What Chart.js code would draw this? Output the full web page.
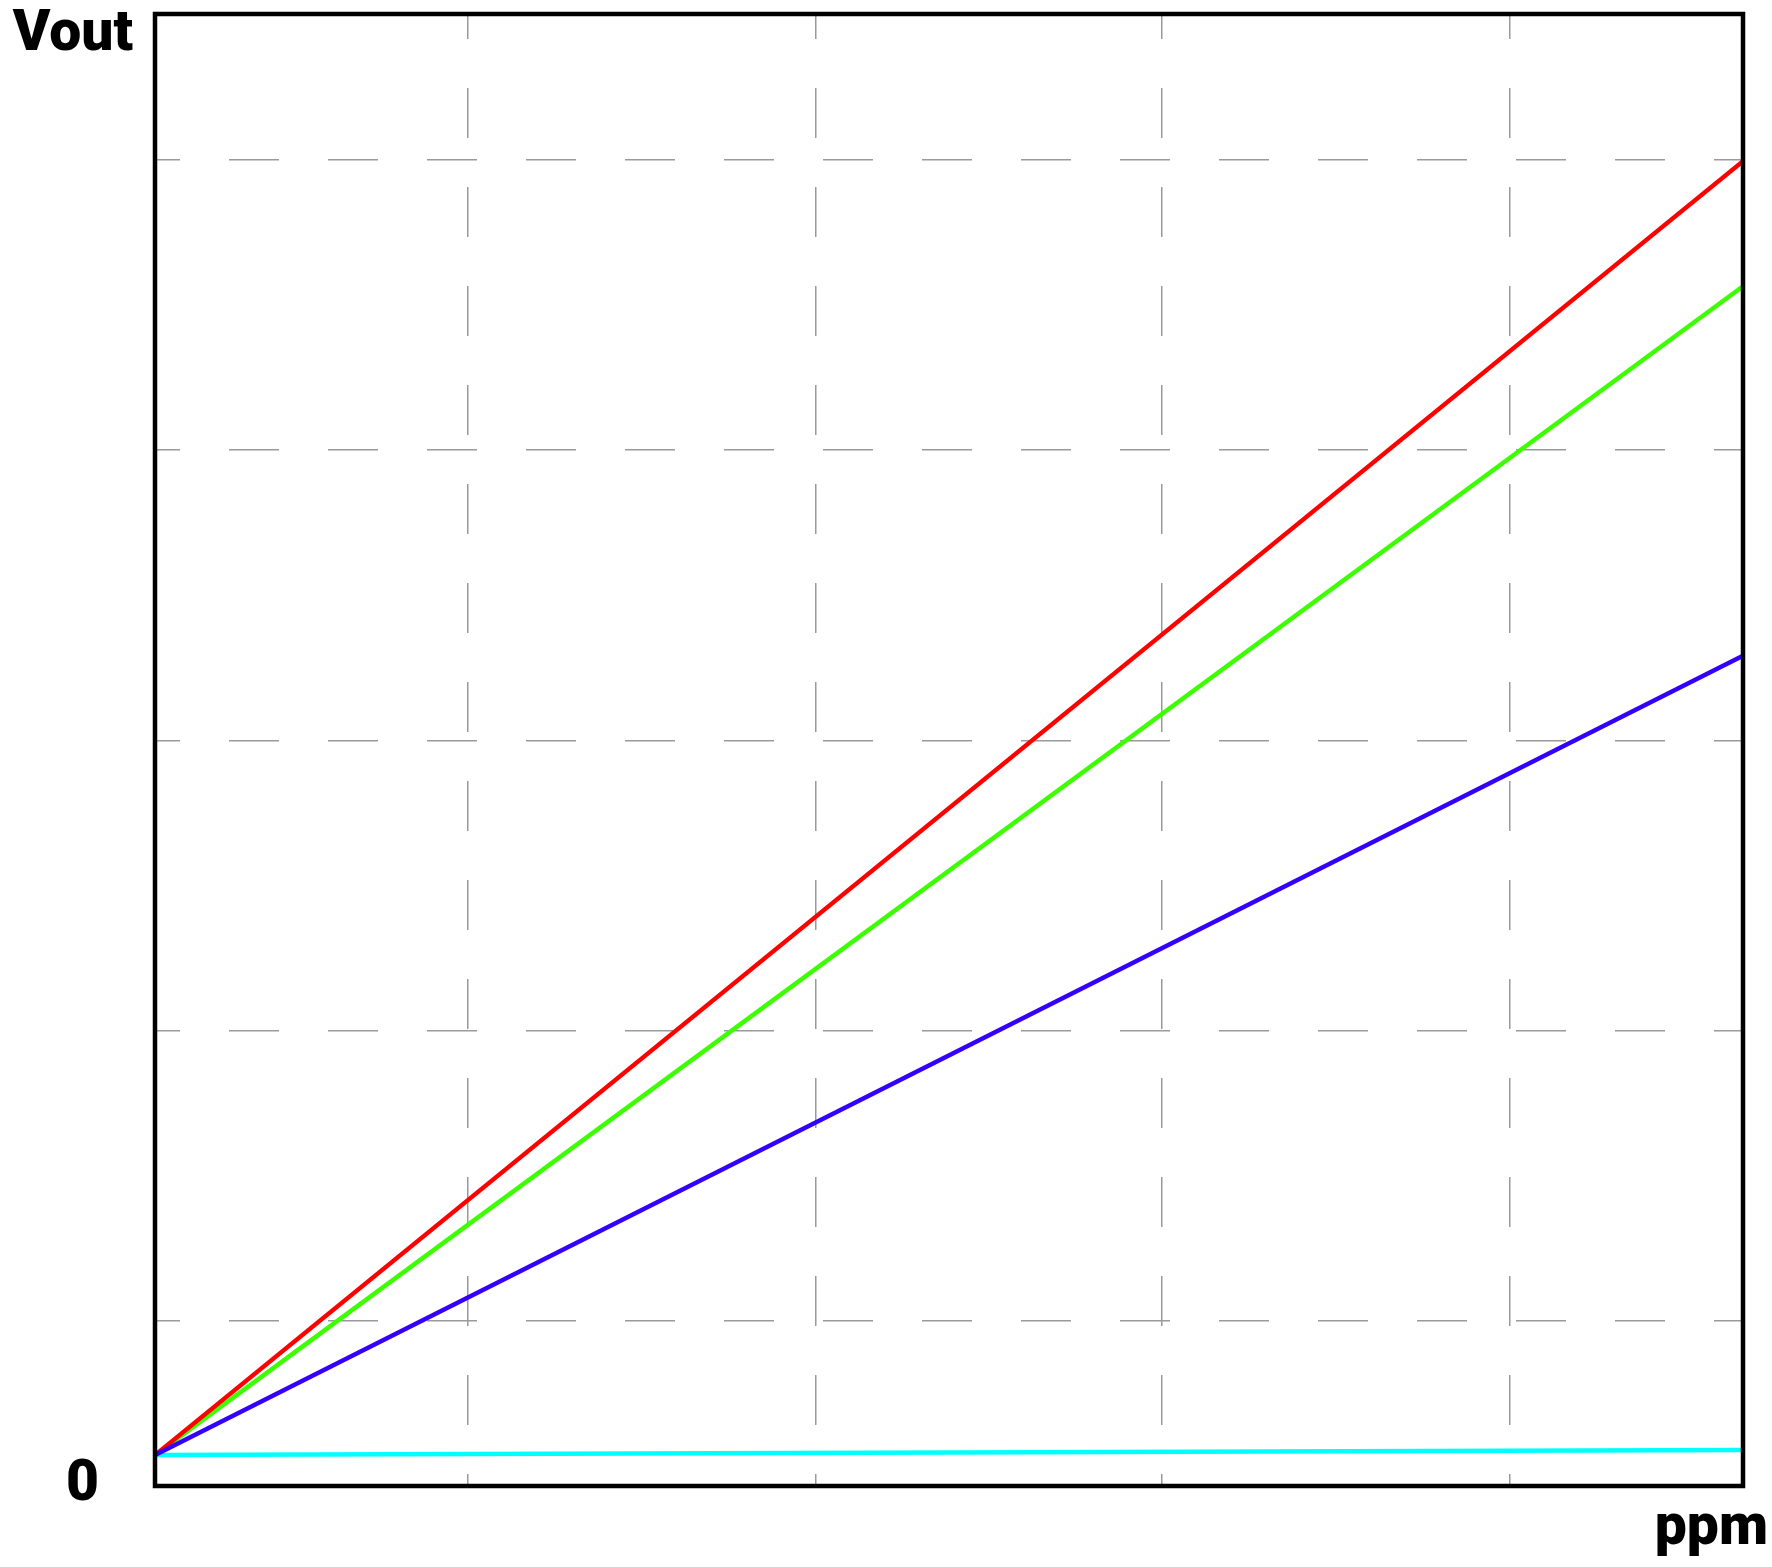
<!DOCTYPE html>
<html>
<head>
<meta charset="utf-8">
<script src="https://cdn.jsdelivr.net/npm/chart.js@4"></script>
<style>
  html, body { margin: 0; padding: 0; background: #fff; }
  canvas { display: block; }
</style>
</head>
<body>
<canvas id="chart" width="1772" height="1567"></canvas>
<script>
// x positions (ppm, relative units) and the four output curves (Vout, relative units)
const ppm = [0, 100];
const redVout = [2.1, 90.0];
const greenVout = [2.1, 81.5];
const blueVout = [2.1, 56.4];
const cyanVout = [2.1, 2.45];

// grid line positions
const xGrid = [19.7, 41.6, 63.4, 85.3];
const yGrid = [11.2, 30.9, 50.6, 70.4, 90.1];

const FONT = "Roboto, 'DejaVu Sans', sans-serif";

function points(ys) {
  return ppm.map((x, i) => ({ x: x, y: ys[i] }));
}

function series(label, ys, color) {
  return {
    label: label,
    data: points(ys),
    borderColor: color,
    borderWidth: 4.5,
    pointRadius: 0,
    tension: 0,
    fill: false
  };
}

// frame around the plot plus the axis captions
const framePlugin = {
  id: 'frame',
  afterDraw(chart) {
    const { ctx, chartArea: a } = chart;
    ctx.save();
    ctx.strokeStyle = '#000';
    ctx.lineWidth = 4.5;
    ctx.strokeRect(a.left, a.top, a.right - a.left, a.bottom - a.top);
    ctx.fillStyle = '#000';
    ctx.font = '900 57px ' + FONT;
    ctx.textAlign = 'right';
    ctx.textBaseline = 'alphabetic';
    ctx.fillText('Vout', a.left - 22, 50);
    ctx.fillText('ppm', 1768, 1544);
    ctx.restore();
  }
};

const gridStyle = {
  color: (c) => (c.tick && c.tick.value === 0 ? 'rgba(0,0,0,0)' : '#9a9a9a'),
  lineWidth: 1.5,
  drawTicks: false
};

function noPad(s) {
  s.paddingTop = 0;
  s.paddingBottom = 0;
  s.paddingLeft = 0;
  s.paddingRight = 0;
}

new Chart(document.getElementById('chart'), {
  type: 'line',
  data: {
    datasets: [
      series('blue', blueVout, 'rgb(51,0,255)'),
      series('red', redVout, 'rgb(255,0,0)'),
      series('green', greenVout, 'rgb(60,255,0)'),
      series('cyan', cyanVout, 'rgb(0,255,255)')
    ]
  },
  options: {
    responsive: false,
    devicePixelRatio: 1,
    animation: false,
    layout: { padding: { top: 14, right: 29, left: 0, bottom: 0 } },
    plugins: { legend: { display: false }, tooltip: { enabled: false } },
    scales: {
      x: {
        type: 'linear',
        min: 0,
        max: 100,
        afterBuildTicks: (s) => { s.ticks = xGrid.map(v => ({ value: v })); },
        afterFit: (s) => { s.height = 81; noPad(s); },
        ticks: { display: false },
        border: { display: false, dash: [50, 49], dashOffset: 25 },
        grid: gridStyle
      },
      y: {
        type: 'linear',
        min: 0,
        max: 100,
        afterBuildTicks: (s) => { s.ticks = [0].concat(yGrid).map(v => ({ value: v })); },
        afterFit: (s) => { s.width = 155; noPad(s); },
        ticks: {
          padding: 56,
          color: '#000',
          autoSkip: false,
          font: { family: FONT, size: 57, weight: '900' },
          callback: (v) => (v === 0 ? '0' : '')
        },
        border: { display: false, dash: [50, 49], dashOffset: 25 },
        grid: gridStyle
      }
    }
  },
  plugins: [framePlugin]
});
</script>
</body>
</html>
